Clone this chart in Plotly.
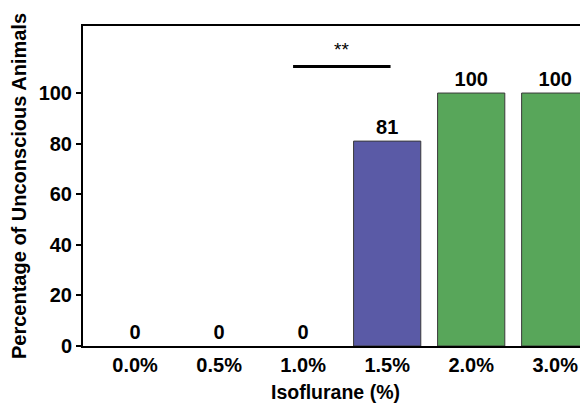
import plotly.graph_objects as go

categories = ["0.0%", "0.5%", "1.0%", "1.5%", "2.0%", "3.0%"]
values = [0, 0, 0, 81, 100, 100]
colors = ["#5a5aa6", "#5a5aa6", "#5a5aa6", "#5a5aa6", "#58a65a", "#58a65a"]
y_ticks = [0, 20, 40, 60, 80, 100]
sig_label = "**"
sig_x = [1.88, 3.04]
sig_y = 110.5

FONT = "Liberation Sans, Arial, sans-serif"

fig = go.Figure()
fig.add_trace(go.Bar(
    x=list(range(len(categories))), y=values,
    marker=dict(color=colors,
                line=dict(color="#3a3a3a", width=[1 if v > 0 else 0 for v in values])),
    text=[f"<b>{v}</b>" for v in values], textposition="outside",
    textfont=dict(family=FONT, size=20, color="black"),
    cliponaxis=False, width=0.8, showlegend=False,
))

fig.add_shape(type="line", x0=sig_x[0], x1=sig_x[1], y0=sig_y, y1=sig_y,
              xref="x", yref="y", line=dict(color="black", width=3))
fig.add_annotation(x=sum(sig_x) / 2, y=sig_y, text=sig_label, showarrow=False,
                   yshift=17, font=dict(family=FONT, size=19, color="black"))

fig.update_layout(
    width=580, height=402,
    margin=dict(l=75, r=0, t=18, b=64),
    plot_bgcolor="white", paper_bgcolor="white",
    font=dict(family=FONT, color="black"),
    xaxis=dict(
        range=[-0.62, 5.39], tickmode="array",
        tickvals=list(range(len(categories))),
        ticktext=[f"<b>{c}</b>" for c in categories],
        tickfont=dict(family=FONT, size=20, color="black"),
        showline=True, linecolor="black", linewidth=2, mirror=True,
        ticks="", showgrid=False, zeroline=False,
        title=dict(text="<b>Isoflurane (%)</b>", font=dict(family=FONT, size=19.5), standoff=10),
    ),
    yaxis=dict(
        range=[0, 126.5], tickmode="array", tickvals=y_ticks,
        ticktext=[f"<b>{t}</b>" for t in y_ticks],
        tickfont=dict(family=FONT, size=20, color="black"),
        showline=True, linecolor="black", linewidth=2,
        ticks="outside", ticklen=5, tickwidth=2, tickcolor="black",
        showgrid=False, zeroline=False,
        title=dict(text="<b>Percentage of Unconscious Animals</b>", font=dict(family=FONT, size=20), standoff=8),
    ),
)

fig.write_html("out.html")
